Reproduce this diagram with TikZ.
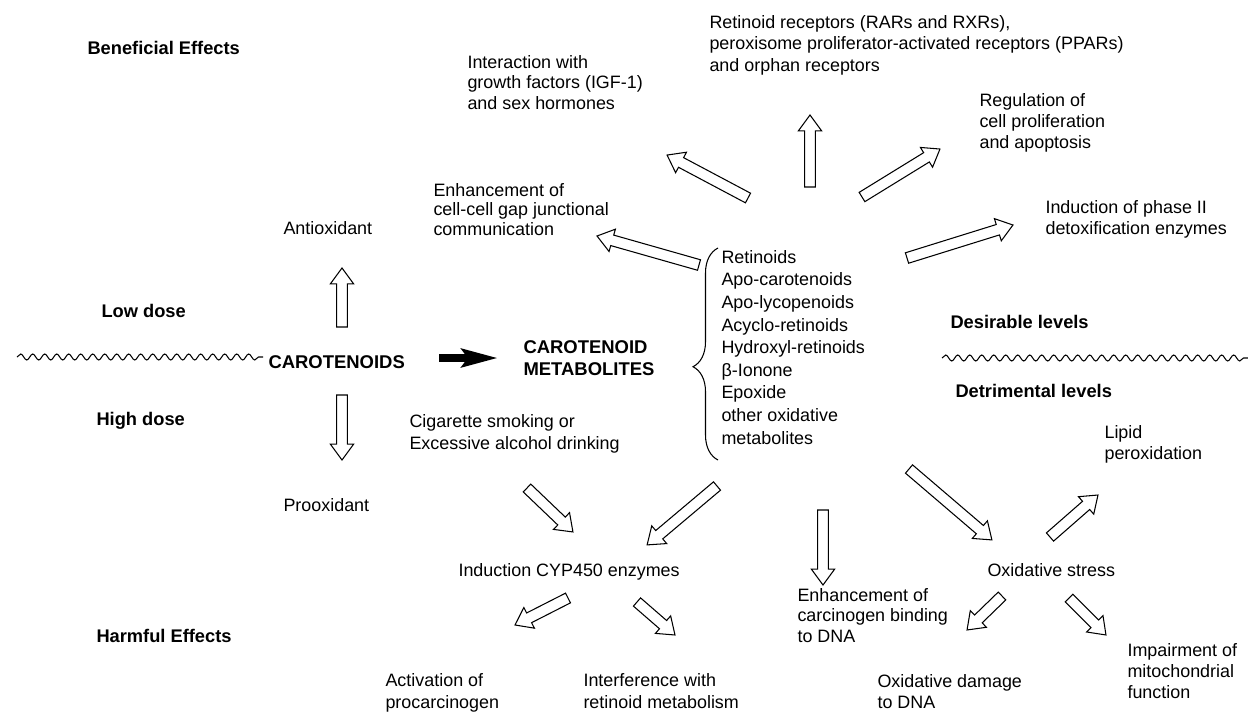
\documentclass[tikz,border=0pt]{standalone}
\usepackage{fontspec}
\setmainfont{Liberation Sans}
\usetikzlibrary{calc,arrows.meta,decorations.pathmorphing,decorations.pathreplacing}

% outlined block arrow between two named coordinates
\newcommand{\hollowarrow}[2]{%
  \draw let \p1=($(#2)-(#1)$), \n1={atan2(\y1,\x1)}, \n2={veclen(\x1,\y1)} in
    [shift={(#1)}, rotate=\n1]
    (0pt,-3.1pt) -- ({\n2*1pt-9pt},-3.1pt) -- ({\n2*1pt-9pt},-6.6pt) -- ({\n2*1pt},0pt)
    -- ({\n2*1pt-9pt},6.6pt) -- ({\n2*1pt-9pt},3.1pt) -- (0pt,3.1pt) -- cycle;}

\tikzset{
  txt/.style={anchor=base west, inner sep=0pt, align=left,
    font=\fontsize{10.2}{11.9}\selectfont},
  hdr/.style={anchor=base west, inner sep=0pt,
    font=\fontsize{10.4}{12.5}\selectfont\bfseries},
  wavy/.style={decorate, decoration={snake, segment length=0.24cm, amplitude=0.06cm}},
}

\begin{document}
\begin{tikzpicture}[x=0.02cm, y=-0.02cm, line width=0.6pt]
	\useasboundingbox (0,0) rectangle (1248,711);
	\fill[white] (0,0) rectangle (1248,711);
	% side labels (base = last line)
	\node[hdr] (benef) at (87,54) {Beneficial Effects};
	\node[hdr] (low) at (101,317) {Low dose};
	\node[hdr] (high) at (96,425) {High dose};
	\node[hdr] (harm) at (96,642) {Harmful Effects};
	\node[hdr] (desir) at (950,328) {Desirable levels};
	\node[hdr] (detri) at (955,397) {Detrimental levels};
	\draw[wavy] (17,357) -- (263,357);
	\draw[wavy] (942,358) -- (1248,358);
	% carotenoids
	\node[hdr, font=\fontsize{10.5}{12.5}\selectfont\bfseries] (caro) at (268,368) {CAROTENOIDS};
	\node[txt] (antiox) at (283,234) {Antioxidant};
	\node[txt] (proox) at (283,511) {Prooxidant};
	\coordinate (upt) at (342,327); \coordinate (uph) at (342,268);
	\coordinate (dnt) at (342,395); \coordinate (dnh) at (342,460);
	\hollowarrow{upt}{uph}
	\hollowarrow{dnt}{dnh}
	\node[hdr, align=left, font=\fontsize{10.5}{12.4}\selectfont\bfseries] (meta) at (523,375) {CAROTENOID\\METABOLITES};
	\coordinate (bkt) at (439,358); \coordinate (bkh) at (498,358);
	\draw[line width=4.4pt, -{Stealth[length=0.72cm, width=0.36cm, inset=0.12cm]}] (bkt) -- (bkh);
	% metabolites
	\node[txt, font=\fontsize{10.2}{12.85}\selectfont] (list) at (721,444) {Retinoids\\Apo-carotenoids\\Apo-lycopenoids\\Acyclo-retinoids\\Hydroxyl-retinoids\\β-Ionone\\Epoxide\\other oxidative\\metabolites};
	\coordinate (brb) at (718,460); \coordinate (brt) at (718,248);
	\draw[decorate, decoration={brace, amplitude=0.5cm, aspect=0.44}] (brb) -- (brt);
	% beneficial effects of metabolites
	\node[txt, font=\fontsize{10.2}{11.4}\selectfont] (igf) at (467,109) {Interaction with\\growth factors (IGF-1)\\and sex hormones};
	\node[txt, font=\fontsize{10.2}{12.2}\selectfont] (recep) at (709,71) {Retinoid receptors (RARs and RXRs),\\peroxisome proliferator-activated receptors (PPARs)\\and orphan receptors};
	\node[txt] (prolif) at (979,148) {Regulation of\\cell proliferation\\and apoptosis};
	\node[txt] (phase) at (1045,234) {Induction of phase II\\detoxification enzymes};
	\node[txt, font=\fontsize{10.2}{11.1}\selectfont] (gap) at (433,235) {Enhancement of\\cell-cell gap junctional\\communication};
	\coordinate (a1t) at (748,198); \coordinate (a1h) at (667,155);
	\coordinate (a2t) at (810,187); \coordinate (a2h) at (810,115);
	\coordinate (a3t) at (862,197); \coordinate (a3h) at (940,149);
	\coordinate (a4t) at (907,258); \coordinate (a4h) at (1013,225);
	\coordinate (a5t) at (699,265); \coordinate (a5h) at (597,236);
	\hollowarrow{a1t}{a1h}
	\hollowarrow{a2t}{a2h}
	\hollowarrow{a3t}{a3h}
	\hollowarrow{a4t}{a4h}
	\hollowarrow{a5t}{a5h}
	% harmful effects
	\node[txt, font=\fontsize{10.2}{12.5}\selectfont] (smoke) at (409,449) {Cigarette smoking or\\Excessive alcohol drinking};
	\node[txt] (cyp) at (458,576) {Induction CYP450 enzymes};
	\node[txt, font=\fontsize{10.2}{12.5}\selectfont] (procarc) at (385,708) {Activation of\\procarcinogen};
	\node[txt, font=\fontsize{10.2}{12.5}\selectfont] (interf) at (583,708) {Interference with\\retinoid metabolism};
	\node[txt, font=\fontsize{10.2}{11.4}\selectfont] (dnabind) at (797,642) {Enhancement of\\carcinogen binding\\to DNA};
	\node[txt] (oxstress) at (987,576) {Oxidative stress};
	\node[txt, font=\fontsize{10.2}{11.4}\selectfont] (oxdna) at (877,708) {Oxidative damage\\to DNA};
	\node[txt] (mito) at (1127,698) {Impairment of\\mitochondrial\\function};
	\node[txt] (lipid) at (1104,459) {Lipid\\peroxidation};
	\coordinate (b1t) at (527,488); \coordinate (b1h) at (573,532);
	\coordinate (b2t) at (717,486); \coordinate (b2h) at (647,545);
	\coordinate (b3t) at (823,510); \coordinate (b3h) at (823,585);
	\coordinate (b4t) at (909,469); \coordinate (b4h) at (992,540);
	\coordinate (b5t) at (1050,537); \coordinate (b5h) at (1098,495);
	\coordinate (b6t) at (1002,596); \coordinate (b6h) at (967,630);
	\coordinate (b7t) at (1069,598); \coordinate (b7h) at (1106,635);
	\coordinate (b8t) at (568,598); \coordinate (b8h) at (515,625);
	\coordinate (b9t) at (637,602); \coordinate (b9h) at (675,635);
	\hollowarrow{b1t}{b1h}
	\hollowarrow{b2t}{b2h}
	\hollowarrow{b3t}{b3h}
	\hollowarrow{b4t}{b4h}
	\hollowarrow{b5t}{b5h}
	\hollowarrow{b6t}{b6h}
	\hollowarrow{b7t}{b7h}
	\hollowarrow{b8t}{b8h}
	\hollowarrow{b9t}{b9h}
\end{tikzpicture}
\end{document}
